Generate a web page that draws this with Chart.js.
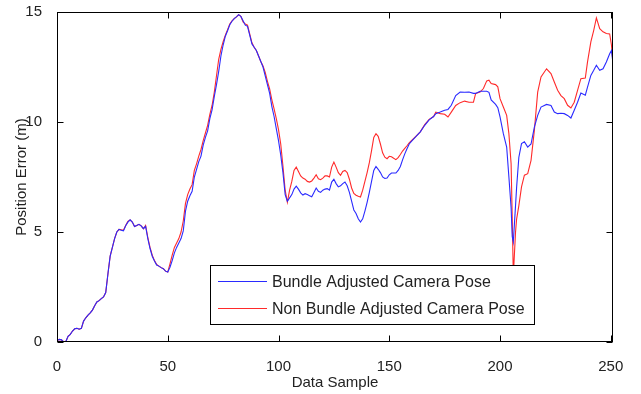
<!DOCTYPE html>
<html>
<head>
<meta charset="utf-8">
<script src="https://cdn.jsdelivr.net/npm/chart.js@4/dist/chart.umd.min.js"></script>
<style>
  html, body { margin: 0; padding: 0; background: #fff; }
</style>
</head>
<body>
<canvas id="errorChart" width="641" height="394"></canvas>
<script>
// Amostras (eixo x) e erro de posição (m)
const sampleIndex = [
  0, 1, 2, 3, 4, 5, 6, 7, 8, 9, 10, 11, 12, 13, 14, 15, 16, 17, 18, 19,
  20, 21, 22, 23, 24, 25, 26, 27, 28, 29, 30, 31, 32, 33, 34, 35, 36, 37, 38, 39,
  40, 41, 42, 43, 44, 45, 46, 47, 48, 49, 50, 51, 52, 53, 54, 55, 56, 57, 58, 59,
  60, 61, 62, 63, 64, 65, 66, 67, 68, 69, 70, 71, 72, 73, 74, 75, 76, 77, 78, 79,
  80, 81, 82, 83, 84, 85, 86, 87, 88, 89, 90, 91, 92, 93, 94, 95, 96, 97, 98, 99,
  100, 101, 102, 103, 104, 105, 106, 107, 108, 109, 110, 111, 112, 113, 114, 115, 116, 117, 118, 119,
  120, 121, 122, 123, 124, 125, 126, 127, 128, 129, 130, 131, 132, 133, 134, 135, 136, 137, 138, 139,
  140, 141, 142, 143, 144, 145, 146, 147, 148, 149, 150, 151, 152, 153, 154, 155, 156, 157, 158, 159,
  160, 162, 164, 166, 168, 170, 171, 173, 175, 176.5, 178, 180, 182, 184, 186, 188, 189, 191, 192.5, 194,
  195, 196, 198, 199, 200, 201.5, 203, 204, 205, 205.5, 206, 207, 207.5, 208.5, 209.7, 211, 212.5, 214, 215.5, 217,
  218.5, 221, 223, 224.5, 226, 227.5, 229, 230.5, 232, 233.5, 235, 236.5, 238.5, 239.5, 241, 242.3, 243.5, 245, 246.5, 248,
  249.5, 250.3, 251
];

const nonBundleError = [
  0.05, 0.12, 0.1, 0.0, 0.02, 0.26, 0.35, 0.5, 0.6, 0.62, 0.58, 0.62, 0.95, 1.1, 1.22, 1.32, 1.45, 1.65, 1.82, 1.88,
  1.97, 2.05, 2.25, 3.1, 3.9, 4.3, 4.7, 5.0, 5.12, 5.1, 5.08, 5.3, 5.48, 5.55, 5.45, 5.25, 5.3, 5.35, 5.28, 5.15,
  5.3, 4.75, 4.3, 3.95, 3.7, 3.52, 3.45, 3.38, 3.33, 3.22, 3.18, 3.55, 3.95, 4.3, 4.5, 4.7, 5.0, 5.5, 6.3, 6.7,
  6.95, 7.15, 7.8, 8.1, 8.45, 8.75, 9.15, 9.5, 9.85, 10.35, 10.75, 11.35, 12.1, 12.85, 13.3, 13.65, 13.95, 14.2, 14.45, 14.6,
  14.7, 14.78, 14.88, 14.8, 14.55, 14.45, 14.4, 14.0, 13.6, 13.4, 13.25, 13.0, 12.75, 12.55, 12.25, 11.85, 11.5, 11.0, 10.6, 10.15,
  9.65, 9.0, 8.0, 6.9, 6.35, 6.9, 7.3, 7.8, 7.95, 7.75, 7.55, 7.45, 7.4, 7.3, 7.27, 7.32, 7.45, 7.6, 7.42, 7.38,
  7.45, 7.55, 7.55, 7.5, 7.95, 8.18, 7.95, 7.7, 7.58, 7.75, 7.8, 7.7, 7.4, 7.0, 6.75, 6.67, 6.62, 6.59, 6.9, 7.3,
  7.7, 8.15, 8.7, 9.3, 9.47, 9.35, 9.0, 8.6, 8.4, 8.33, 8.44, 8.42, 8.35, 8.29, 8.38, 8.52, 8.68, 8.8, 8.92, 9.05,
  9.15, 9.35, 9.55, 9.88, 10.12, 10.25, 10.45, 10.38, 10.35, 10.23, 10.45, 10.75, 10.88, 10.95, 10.9, 10.9, 11.3, 11.36, 11.52, 11.87,
  11.9, 11.75, 11.7, 11.6, 11.06, 10.68, 10.3, 9.47, 8.1, 5.7, 3.0, 5.0, 5.6, 6.2, 7.05, 7.58, 7.65, 8.26, 9.62, 11.36,
  12.05, 12.42, 12.2, 11.82, 11.44, 11.2, 11.06, 10.76, 10.64, 10.9, 11.44, 11.97, 12.0, 12.73, 13.64, 14.17, 14.73, 14.24, 14.1, 14.02,
  14.0, 13.5, 12.7
];

const bundleError = [
  0.05, 0.12, 0.1, 0.0, 0.02, 0.26, 0.35, 0.5, 0.6, 0.62, 0.58, 0.62, 0.95, 1.1, 1.22, 1.32, 1.45, 1.65, 1.82, 1.88,
  1.97, 2.05, 2.25, 3.1, 3.9, 4.3, 4.7, 5.0, 5.12, 5.08, 5.05, 5.28, 5.45, 5.55, 5.45, 5.25, 5.3, 5.35, 5.28, 5.15,
  5.25, 4.7, 4.25, 3.9, 3.68, 3.5, 3.45, 3.38, 3.33, 3.22, 3.18, 3.4, 3.7, 4.05, 4.3, 4.5, 4.7, 5.05, 5.95, 6.4,
  6.65, 6.85, 7.5, 7.85, 8.2, 8.45, 8.95, 9.3, 9.6, 10.15, 10.55, 11.15, 11.7, 12.3, 13.0, 13.5, 13.9, 14.15, 14.42, 14.58,
  14.7, 14.78, 14.88, 14.8, 14.6, 14.4, 14.35, 13.95, 13.55, 13.4, 13.25, 13.0, 12.75, 12.5, 12.1, 11.7, 11.3, 10.7, 10.25, 9.7,
  9.15, 8.5, 7.7, 6.7, 6.4, 6.55, 6.7, 6.95, 7.08, 6.95, 6.78, 6.68, 6.74, 6.7, 6.65, 6.6, 6.8, 7.0, 6.85, 6.8,
  6.9, 6.95, 6.97, 6.9, 7.27, 7.4, 7.2, 7.05, 7.1, 7.2, 7.27, 7.1, 6.8, 6.4, 6.0, 5.84, 5.6, 5.45, 5.6, 5.95,
  6.35, 6.8, 7.3, 7.8, 7.98, 7.85, 7.7, 7.5, 7.43, 7.45, 7.6, 7.68, 7.68, 7.68, 7.8, 7.98, 8.28, 8.55, 8.78, 9.0,
  9.12, 9.33, 9.55, 9.85, 10.1, 10.25, 10.38, 10.45, 10.53, 10.57, 10.76, 11.2, 11.36, 11.35, 11.36, 11.3, 11.3, 11.4, 11.4, 11.4,
  11.35, 11.0, 10.8, 10.65, 10.23, 9.47, 8.86, 7.5, 6.1, 4.8, 4.55, 6.2, 7.05, 8.4, 9.02, 9.1, 8.86, 9.0, 9.77, 10.3,
  10.68, 10.8, 10.75, 10.45, 10.38, 10.4, 10.38, 10.3, 10.18, 10.53, 10.9, 11.32, 11.22, 11.59, 12.12, 12.35, 12.58, 12.35, 12.42, 12.73,
  13.1, 13.25, 12.65
];

const seriesLabels = ['Bundle Adjusted Camera Pose', 'Non Bundle Adjusted Camera Pose'];
const xTicks = [0, 50, 100, 150, 200, 250];
const yTicks = [0, 5, 10, 15];

const fonte = '"Liberation Sans", Arial, sans-serif';

function montarPontos(valores) {
  return sampleIndex.map((x, i) => ({ x, y: valores[i] }));
}

// Caixa estilo MATLAB: moldura com ticks internos e legenda dentro do gráfico
const molduraMatlab = {
  id: 'molduraMatlab',
  afterDraw(chart) {
    const { ctx, chartArea: a, scales } = chart;
    const left = Math.round(a.left) + 0.5;
    const right = Math.round(a.right) - 0.5;
    const top = Math.round(a.top) + 0.5;
    const bottom = Math.round(a.bottom) - 0.5;
    const tam = 6;

    ctx.save();
    ctx.strokeStyle = '#000';
    ctx.lineWidth = 1;
    ctx.strokeRect(left, top, right - left, bottom - top);

    ctx.beginPath();
    xTicks.forEach(v => {
      const px = Math.round(scales.x.getPixelForValue(v)) + 0.5;
      ctx.moveTo(px, bottom); ctx.lineTo(px, bottom - tam);
      ctx.moveTo(px, top); ctx.lineTo(px, top + tam);
    });
    yTicks.forEach(v => {
      const py = Math.round(scales.y.getPixelForValue(v)) + 0.5;
      ctx.moveTo(left, py); ctx.lineTo(left + tam, py);
      ctx.moveTo(right, py); ctx.lineTo(right - tam, py);
    });
    ctx.stroke();

    // legenda
    const box = { x: 210, y: 265, w: 324, h: 59 };
    ctx.fillStyle = '#fff';
    ctx.fillRect(box.x, box.y, box.w, box.h);
    ctx.strokeRect(box.x + 0.5, box.y + 0.5, box.w, box.h);
    ctx.font = '16px ' + fonte;
    ctx.textBaseline = 'middle';
    chart.data.datasets.forEach((ds, i) => {
      const ly = box.y + 16.5 + i * 27;
      ctx.strokeStyle = ds.borderColor;
      ctx.beginPath();
      ctx.moveTo(box.x + 8, ly);
      ctx.lineTo(box.x + 57, ly);
      ctx.stroke();
      ctx.fillStyle = '#222';
      ctx.fillText(ds.label, box.x + 62, ly + 1);
    });
    ctx.restore();
  }
};

const ctx = document.getElementById('errorChart').getContext('2d');
new Chart(ctx, {
  type: 'line',
  data: {
    datasets: [
      {
        label: seriesLabels[0],
        data: montarPontos(bundleError),
        borderColor: '#2a2aff',
        borderWidth: 1.1,
        pointRadius: 0,
        tension: 0
      },
      {
        label: seriesLabels[1],
        data: montarPontos(nonBundleError),
        borderColor: '#ff2a2a',
        borderWidth: 1.1,
        pointRadius: 0,
        tension: 0
      }
    ]
  },
  options: {
    responsive: false,
    animation: false,
    devicePixelRatio: 1,
    layout: { padding: { top: 12, right: 28, left: 0, bottom: 0 } },
    plugins: {
      legend: { display: false },
      tooltip: { enabled: false }
    },
    scales: {
      x: {
        type: 'linear',
        min: 0,
        max: 251,
        afterBuildTicks: scale => { scale.ticks = xTicks.map(v => ({ value: v })); },
        afterFit: scale => {
          scale.height = 52;
          scale.paddingLeft = 0;
          scale.paddingRight = 0;
        },
        grid: { display: false },
        border: { display: false },
        ticks: { color: '#222', font: { family: fonte, size: 15 }, padding: 8, maxRotation: 0 },
        title: { display: true, text: 'Data Sample', color: '#222', font: { family: fonte, size: 15 }, padding: { top: 0, bottom: 2 } }
      },
      y: {
        min: 0,
        max: 15,
        afterBuildTicks: scale => { scale.ticks = yTicks.map(v => ({ value: v })); },
        afterFit: scale => {
          scale.width = 57;
          scale.paddingTop = 0;
          scale.paddingBottom = 0;
        },
        grid: { display: false },
        border: { display: false },
        ticks: { color: '#222', font: { family: fonte, size: 15 }, padding: 7 },
        title: { display: true, text: 'Position Error (m)', color: '#222', font: { family: fonte, size: 15 }, padding: { top: 13, bottom: 0 } }
      }
    }
  },
  plugins: [molduraMatlab]
});
</script>
</body>
</html>
